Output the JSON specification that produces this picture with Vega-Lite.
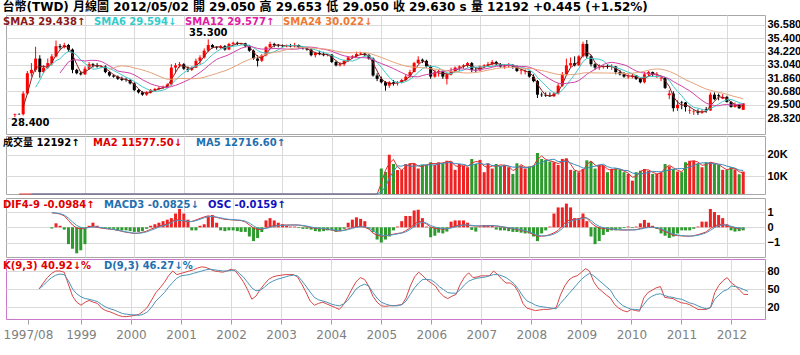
{
"$schema": "https://vega.github.io/schema/vega-lite/v6.json",
"padding": {"left": 2, "top": 0, "right": 0, "bottom": 0},
"background": "white",
"title": {"text": "台幣(TWD)  月線圖  2012/05/02  開 29.050  高 29.653  低 29.050  收 29.630 s  量 12192  +0.445 (+1.52%)", "anchor": "start", "fontSize": 12, "fontWeight": "bold", "font": "DejaVu Sans, Noto Sans CJK TC", "color": "#000000", "offset": 1},
"config": {
  "font": "DejaVu Sans, Noto Sans CJK TC",
  "view": {"stroke": "#a8a8a8"},
  "axis": {"labelFont": "Liberation Sans", "labelFontSize": 11, "labelFontWeight": "bold", "labelColor": "#000000", "labelOverlap": false, "ticks": false, "domain": false, "gridColor": "#dadada", "title": null, "labelPadding": 2},
  "legend": {"orient": "top-left", "direction": "horizontal", "title": null, "symbolSize": 1, "symbolOpacity": 0, "symbolStrokeWidth": 0, "labelOffset": -15, "labelFont": "DejaVu Sans, Noto Sans CJK TC", "labelFontSize": 10, "labelFontWeight": "bold", "columnPadding": 12, "padding": 0, "offset": 2}
},
"spacing": 0,
"resolve": {"scale": {"color": "independent", "y": "independent", "x": "independent"}, "legend": {"color": "independent"}},
"datasets": {"m": [
{"d":"1997/08/01","o":28.62,"h":28.72,"l":28.4,"c":28.68,"v":0},
{"d":"1997/09/01","o":28.68,"h":28.75,"l":28.6,"c":28.66,"v":0},
{"d":"1997/10/01","o":28.66,"h":30.7,"l":28.55,"c":30.5,"v":0},
{"d":"1997/11/01","o":30.5,"h":32.5,"l":30.4,"c":32.3,"v":0},
{"d":"1997/12/01","o":32.3,"h":33.2,"l":32.0,"c":32.6,"v":0},
{"d":"1998/01/01","o":32.6,"h":34.65,"l":32.4,"c":33.6,"v":0},
{"d":"1998/02/01","o":33.6,"h":33.9,"l":31.9,"c":32.4,"v":0},
{"d":"1998/03/01","o":32.4,"h":33.0,"l":32.3,"c":32.8,"v":0,"k":50,"dv":50},
{"d":"1998/04/01","o":32.8,"h":33.6,"l":32.7,"c":33.2,"v":0,"k":60,"dv":56},
{"d":"1998/05/01","o":33.2,"h":34.0,"l":33.0,"c":33.8,"v":0,"k":69,"dv":63,"dif":0.95,"sig":0.95,"osc":-0.08},
{"d":"1998/06/01","o":33.8,"h":35.2,"l":33.7,"c":34.7,"v":0,"k":76,"dv":69,"dif":0.92,"sig":0.93,"osc":0.26},
{"d":"1998/07/01","o":34.7,"h":34.9,"l":34.4,"c":34.6,"v":0,"k":80,"dv":73,"dif":0.87,"sig":0.89,"osc":0.1},
{"d":"1998/08/01","o":34.6,"h":35.0,"l":34.5,"c":34.8,"v":0,"k":80,"dv":75,"dif":0.75,"sig":0.8,"osc":-0.15},
{"d":"1998/09/01","o":34.8,"h":34.9,"l":34.2,"c":34.4,"v":0,"k":78,"dv":74,"dif":0.45,"sig":0.6,"osc":-1.1},
{"d":"1998/10/01","o":34.4,"h":34.5,"l":32.3,"c":32.6,"v":0,"k":58,"dv":64,"dif":0.15,"sig":0.35,"osc":-1.4},
{"d":"1998/11/01","o":32.6,"h":32.7,"l":32.2,"c":32.3,"v":0,"k":38,"dv":50,"dif":-0.05,"sig":0.12,"osc":-1.7},
{"d":"1998/12/01","o":32.3,"h":32.5,"l":32.1,"c":32.2,"v":0,"k":28,"dv":42,"dif":-0.1,"sig":0,"osc":-1.5},
{"d":"1999/01/01","o":32.2,"h":32.9,"l":32.15,"c":32.7,"v":0,"k":23,"dv":37,"dif":-0.08,"sig":-0.06,"osc":-1.1},
{"d":"1999/02/01","o":32.7,"h":33.3,"l":32.6,"c":33.1,"v":0,"k":28,"dv":34,"dif":0.04,"sig":-0.01,"osc":0.1},
{"d":"1999/03/01","o":33.1,"h":33.2,"l":32.8,"c":33.0,"v":0,"k":31,"dv":33,"dif":0.05,"sig":0.03,"osc":0.3},
{"d":"1999/04/01","o":33.0,"h":33.2,"l":32.8,"c":32.9,"v":0,"k":28,"dv":31,"dif":0,"sig":0.02,"osc":0.1},
{"d":"1999/05/01","o":32.85,"h":33.0,"l":32.75,"c":32.9,"v":0,"k":26,"dv":29,"dif":-0.05,"sig":-0.02,"osc":-0.05},
{"d":"1999/06/01","o":32.9,"h":33.0,"l":32.3,"c":32.4,"v":0,"k":18,"dv":24,"dif":-0.08,"sig":-0.06,"osc":-0.08},
{"d":"1999/07/01","o":32.4,"h":32.5,"l":32.0,"c":32.1,"v":0,"k":14,"dv":20,"dif":-0.12,"sig":-0.1,"osc":-0.1},
{"d":"1999/08/01","o":32.1,"h":32.2,"l":31.9,"c":32.0,"v":0,"k":12,"dv":17,"dif":-0.15,"sig":-0.14,"osc":-0.1},
{"d":"1999/09/01","o":32.0,"h":32.1,"l":31.7,"c":31.8,"v":0,"k":9,"dv":15,"dif":-0.2,"sig":-0.18,"osc":-0.2},
{"d":"1999/10/01","o":31.8,"h":32.0,"l":31.6,"c":31.7,"v":0,"k":6,"dv":12,"dif":-0.26,"sig":-0.24,"osc":-0.2},
{"d":"1999/11/01","o":31.75,"h":31.9,"l":31.55,"c":31.7,"v":0,"k":4,"dv":9,"dif":-0.32,"sig":-0.3,"osc":-0.2},
{"d":"1999/12/01","o":31.7,"h":31.8,"l":31.3,"c":31.4,"v":0,"k":4,"dv":8,"dif":-0.36,"sig":-0.34,"osc":-0.25},
{"d":"2000/01/01","o":31.4,"h":31.5,"l":30.7,"c":30.8,"v":0,"k":5,"dv":7,"dif":-0.4,"sig":-0.38,"osc":-0.3},
{"d":"2000/02/01","o":30.8,"h":30.9,"l":30.5,"c":30.6,"v":0,"k":6,"dv":7,"dif":-0.38,"sig":-0.39,"osc":-0.3},
{"d":"2000/03/01","o":30.6,"h":30.7,"l":30.3,"c":30.4,"v":0,"k":8,"dv":6,"dif":-0.33,"sig":-0.36,"osc":-0.25},
{"d":"2000/04/01","o":30.4,"h":30.7,"l":30.3,"c":30.6,"v":0,"k":13,"dv":8,"dif":-0.25,"sig":-0.3,"osc":-0.1},
{"d":"2000/05/01","o":30.6,"h":30.9,"l":30.5,"c":30.8,"v":0,"k":20,"dv":12,"dif":-0.13,"sig":-0.2,"osc":0.1},
{"d":"2000/06/01","o":30.8,"h":31.0,"l":30.7,"c":30.9,"v":0,"k":32,"dv":20,"dif":-0.02,"sig":-0.1,"osc":0.2},
{"d":"2000/07/01","o":30.9,"h":31.1,"l":30.8,"c":31.0,"v":0,"k":44,"dv":30,"dif":0.08,"sig":0.02,"osc":0.3},
{"d":"2000/08/01","o":31.0,"h":31.2,"l":30.9,"c":31.1,"v":0,"k":52,"dv":37,"dif":0.15,"sig":0.1,"osc":0.4},
{"d":"2000/09/01","o":31.1,"h":31.4,"l":31.0,"c":31.3,"v":0,"k":61,"dv":44,"dif":0.2,"sig":0.16,"osc":0.5},
{"d":"2000/10/01","o":31.3,"h":33.1,"l":31.2,"c":32.8,"v":0,"k":72,"dv":53,"dif":0.4,"sig":0.3,"osc":0.6},
{"d":"2000/11/01","o":32.8,"h":33.2,"l":32.3,"c":33.0,"v":0,"k":80,"dv":61,"dif":0.5,"sig":0.42,"osc":0.9},
{"d":"2000/12/01","o":33.0,"h":33.3,"l":32.8,"c":33.1,"v":0,"k":74,"dv":68,"dif":0.48,"sig":0.46,"osc":1.2},
{"d":"2001/01/01","o":33.1,"h":33.2,"l":32.6,"c":32.7,"v":0,"k":76,"dv":72,"dif":0.4,"sig":0.43,"osc":0.9},
{"d":"2001/02/01","o":32.7,"h":32.9,"l":32.4,"c":32.6,"v":0,"k":78,"dv":73,"dif":0.36,"sig":0.39,"osc":0.5},
{"d":"2001/03/01","o":32.6,"h":32.9,"l":32.5,"c":32.8,"v":0,"k":80,"dv":74,"dif":0.38,"sig":0.38,"osc":-0.2},
{"d":"2001/04/01","o":32.8,"h":33.6,"l":32.75,"c":33.4,"v":0,"k":82,"dv":76,"dif":0.48,"sig":0.43,"osc":-0.2},
{"d":"2001/05/01","o":33.4,"h":33.9,"l":33.1,"c":33.7,"v":0,"k":85,"dv":78,"dif":0.58,"sig":0.52,"osc":0.1},
{"d":"2001/06/01","o":33.7,"h":34.5,"l":33.6,"c":34.3,"v":0,"k":87,"dv":80,"dif":0.68,"sig":0.62,"osc":0.2},
{"d":"2001/07/01","o":34.3,"h":35.3,"l":34.2,"c":34.8,"v":0,"k":86,"dv":82,"dif":0.75,"sig":0.7,"osc":0.7},
{"d":"2001/08/01","o":34.8,"h":34.9,"l":34.5,"c":34.6,"v":0,"k":83,"dv":83,"dif":0.7,"sig":0.71,"osc":0.8},
{"d":"2001/09/01","o":34.6,"h":34.7,"l":34.4,"c":34.55,"v":0,"k":80,"dv":82,"dif":0.65,"sig":0.67,"osc":0.3},
{"d":"2001/10/01","o":34.55,"h":34.8,"l":34.45,"c":34.7,"v":0,"k":79,"dv":81,"dif":0.58,"sig":0.62,"osc":-0.2},
{"d":"2001/11/01","o":34.7,"h":34.8,"l":34.3,"c":34.4,"v":0,"k":78,"dv":80,"dif":0.52,"sig":0.56,"osc":-0.25},
{"d":"2001/12/01","o":34.4,"h":35.0,"l":34.35,"c":34.9,"v":0,"k":80,"dv":80,"dif":0.5,"sig":0.52,"osc":-0.2},
{"d":"2002/01/01","o":34.9,"h":35.1,"l":34.8,"c":35.0,"v":0,"k":83,"dv":81,"dif":0.48,"sig":0.5,"osc":-0.2},
{"d":"2002/02/01","o":35.0,"h":35.1,"l":34.8,"c":34.9,"v":0,"k":80,"dv":82,"dif":0.46,"sig":0.48,"osc":-0.25},
{"d":"2002/03/01","o":34.9,"h":35.0,"l":34.8,"c":34.95,"v":0,"k":72,"dv":76,"dif":0.44,"sig":0.46,"osc":-0.3},
{"d":"2002/04/01","o":34.95,"h":35.0,"l":34.6,"c":34.7,"v":0,"k":62,"dv":70,"dif":0.35,"sig":0.4,"osc":-0.3},
{"d":"2002/05/01","o":34.7,"h":34.8,"l":34.2,"c":34.3,"v":0,"k":49,"dv":61,"dif":0.15,"sig":0.28,"osc":-0.6},
{"d":"2002/06/01","o":34.3,"h":34.4,"l":33.5,"c":33.6,"v":0,"k":33,"dv":52,"dif":-0.05,"sig":0.1,"osc":-0.9},
{"d":"2002/07/01","o":33.6,"h":33.9,"l":32.9,"c":33.4,"v":0,"k":38,"dv":47,"dif":-0.15,"sig":-0.05,"osc":-0.7},
{"d":"2002/08/01","o":33.4,"h":34.0,"l":33.3,"c":33.9,"v":0,"k":49,"dv":48,"dif":-0.12,"sig":-0.1,"osc":-0.3},
{"d":"2002/09/01","o":33.9,"h":34.7,"l":33.8,"c":34.6,"v":0,"k":58,"dv":53,"dif":-0.05,"sig":-0.08,"osc":0.45},
{"d":"2002/10/01","o":34.6,"h":35.1,"l":34.5,"c":34.9,"v":0,"k":66,"dv":59,"dif":0.05,"sig":0,"osc":0.6},
{"d":"2002/11/01","o":34.9,"h":35.0,"l":34.6,"c":34.8,"v":0,"k":70,"dv":63,"dif":0.11,"sig":0.07,"osc":0.45},
{"d":"2002/12/01","o":34.8,"h":34.9,"l":34.6,"c":34.75,"v":0,"k":72,"dv":66,"dif":0.13,"sig":0.11,"osc":0.3},
{"d":"2003/01/01","o":34.75,"h":34.85,"l":34.6,"c":34.7,"v":0,"k":73,"dv":68,"dif":0.14,"sig":0.13,"osc":0.2},
{"d":"2003/02/01","o":34.7,"h":34.85,"l":34.6,"c":34.75,"v":0,"k":74,"dv":70,"dif":0.15,"sig":0.14,"osc":0.1},
{"d":"2003/03/01","o":34.75,"h":34.9,"l":34.6,"c":34.7,"v":0,"k":74,"dv":72,"dif":0.15,"sig":0.15,"osc":0.05},
{"d":"2003/04/01","o":34.7,"h":35.0,"l":34.6,"c":34.8,"v":0,"k":74,"dv":73,"dif":0.16,"sig":0.15,"osc":0.05},
{"d":"2003/05/01","o":34.8,"h":34.85,"l":34.5,"c":34.6,"v":0,"k":70,"dv":72,"dif":0.14,"sig":0.15,"osc":-0.05},
{"d":"2003/06/01","o":34.6,"h":34.7,"l":34.4,"c":34.5,"v":0,"k":58,"dv":64,"dif":0.1,"sig":0.12,"osc":-0.1},
{"d":"2003/07/01","o":34.5,"h":34.6,"l":34.3,"c":34.4,"v":0,"k":45,"dv":55,"dif":0.05,"sig":0.08,"osc":-0.1},
{"d":"2003/08/01","o":34.4,"h":34.5,"l":33.8,"c":33.9,"v":0,"k":30,"dv":45,"dif":-0.02,"sig":0.02,"osc":-0.15},
{"d":"2003/09/01","o":33.9,"h":34.2,"l":33.7,"c":34.1,"v":0,"k":23,"dv":36,"dif":-0.06,"sig":-0.03,"osc":-0.25},
{"d":"2003/10/01","o":34.1,"h":34.3,"l":33.9,"c":34.0,"v":0,"k":26,"dv":32,"dif":-0.08,"sig":-0.06,"osc":-0.28},
{"d":"2003/11/01","o":34.0,"h":34.2,"l":33.8,"c":33.9,"v":0,"k":28,"dv":30,"dif":-0.1,"sig":-0.08,"osc":-0.25},
{"d":"2003/12/01","o":33.9,"h":34.0,"l":33.8,"c":33.95,"v":0,"k":25,"dv":28,"dif":-0.13,"sig":-0.11,"osc":-0.2},
{"d":"2004/01/01","o":33.95,"h":34.0,"l":33.2,"c":33.3,"v":0,"k":22,"dv":25,"dif":-0.18,"sig":-0.15,"osc":-0.2},
{"d":"2004/02/01","o":33.3,"h":33.4,"l":32.9,"c":33.0,"v":0,"k":19,"dv":23,"dif":-0.24,"sig":-0.2,"osc":-0.3},
{"d":"2004/03/01","o":33.0,"h":33.3,"l":32.9,"c":33.1,"v":0,"k":16,"dv":22,"dif":-0.24,"sig":-0.23,"osc":-0.25},
{"d":"2004/04/01","o":33.1,"h":33.5,"l":32.95,"c":33.4,"v":0,"k":24,"dv":25,"dif":-0.18,"sig":-0.21,"osc":-0.1},
{"d":"2004/05/01","o":33.4,"h":33.8,"l":33.3,"c":33.7,"v":0,"k":36,"dv":31,"dif":-0.1,"sig":-0.15,"osc":0.3},
{"d":"2004/06/01","o":33.7,"h":33.9,"l":33.6,"c":33.8,"v":0,"k":50,"dv":40,"dif":-0.02,"sig":-0.07,"osc":0.5},
{"d":"2004/07/01","o":33.8,"h":34.2,"l":33.7,"c":34.0,"v":0,"k":62,"dv":50,"dif":0.04,"sig":0,"osc":0.65},
{"d":"2004/08/01","o":34.0,"h":34.2,"l":33.9,"c":34.05,"v":0,"k":69,"dv":55,"dif":0.06,"sig":0.04,"osc":0.55},
{"d":"2004/09/01","o":34.05,"h":34.1,"l":33.8,"c":33.9,"v":0,"k":66,"dv":58,"dif":0,"sig":0.03,"osc":0.4},
{"d":"2004/10/01","o":33.9,"h":34.0,"l":33.5,"c":33.6,"v":0,"k":55,"dv":55,"dif":-0.12,"sig":-0.05,"osc":-0.1},
{"d":"2004/11/01","o":33.6,"h":33.7,"l":32.0,"c":32.1,"v":0,"k":38,"dv":44,"dif":-0.38,"sig":-0.22,"osc":-0.3},
{"d":"2004/12/01","o":32.1,"h":32.3,"l":31.6,"c":31.8,"v":0,"k":28,"dv":35,"dif":-0.52,"sig":-0.4,"osc":-0.8},
{"d":"2005/01/01","o":31.8,"h":32.0,"l":31.4,"c":31.5,"v":13600,"k":22,"dv":28,"dif":-0.58,"sig":-0.52,"osc":-1.0},
{"d":"2005/02/01","o":31.5,"h":31.6,"l":30.75,"c":31.2,"v":12000,"k":21,"dv":25,"dif":-0.56,"sig":-0.55,"osc":-0.8},
{"d":"2005/03/01","o":31.2,"h":31.6,"l":31.0,"c":31.5,"v":20000,"k":22,"dv":23,"dif":-0.5,"sig":-0.52,"osc":-0.6},
{"d":"2005/04/01","o":31.5,"h":31.7,"l":31.2,"c":31.4,"v":15700,"k":22,"dv":22,"dif":-0.45,"sig":-0.48,"osc":-0.2},
{"d":"2005/05/01","o":31.4,"h":31.6,"l":31.2,"c":31.5,"v":12900,"k":23,"dv":22,"dif":-0.4,"sig":-0.43,"osc":0.05},
{"d":"2005/06/01","o":31.5,"h":31.8,"l":31.4,"c":31.7,"v":12900,"k":24,"dv":24,"dif":-0.36,"sig":-0.38,"osc":0.4},
{"d":"2005/07/01","o":31.7,"h":32.2,"l":31.6,"c":32.0,"v":15700,"k":35,"dv":30,"dif":-0.22,"sig":-0.3,"osc":0.74},
{"d":"2005/08/01","o":32.0,"h":32.6,"l":31.9,"c":32.4,"v":16000,"k":55,"dv":41,"dif":-0.05,"sig":-0.15,"osc":0.74},
{"d":"2005/09/01","o":32.4,"h":33.3,"l":32.4,"c":33.2,"v":16000,"k":70,"dv":52,"dif":0.18,"sig":0.04,"osc":1.1},
{"d":"2005/10/01","o":33.2,"h":33.8,"l":33.1,"c":33.5,"v":13600,"k":78,"dv":60,"dif":0.38,"sig":0.25,"osc":1.15},
{"d":"2005/11/01","o":33.5,"h":33.6,"l":33.2,"c":33.4,"v":15300,"k":72,"dv":66,"dif":0.35,"sig":0.33,"osc":0.6},
{"d":"2005/12/01","o":33.4,"h":33.5,"l":32.8,"c":32.9,"v":15300,"k":65,"dv":66,"dif":0.22,"sig":0.28,"osc":0.05},
{"d":"2006/01/01","o":32.9,"h":33.0,"l":31.8,"c":32.0,"v":16500,"k":60,"dv":65,"dif":0.02,"sig":0.12,"osc":-0.65},
{"d":"2006/02/01","o":32.0,"h":32.6,"l":31.9,"c":32.4,"v":15300,"k":55,"dv":60,"dif":-0.06,"sig":0.02,"osc":-0.55},
{"d":"2006/03/01","o":32.4,"h":32.6,"l":32.0,"c":32.5,"v":16500,"k":45,"dv":54,"dif":-0.09,"sig":-0.04,"osc":-0.35},
{"d":"2006/04/01","o":32.5,"h":32.6,"l":31.8,"c":32.0,"v":16000,"k":38,"dv":49,"dif":-0.12,"sig":-0.08,"osc":-0.4},
{"d":"2006/05/01","o":31.8,"h":32.3,"l":31.3,"c":32.2,"v":17200,"k":34,"dv":44,"dif":-0.11,"sig":-0.1,"osc":-0.28},
{"d":"2006/06/01","o":32.2,"h":32.8,"l":32.1,"c":32.5,"v":16800,"k":38,"dv":43,"dif":0,"sig":-0.05,"osc":0.37},
{"d":"2006/07/01","o":32.5,"h":32.9,"l":32.4,"c":32.8,"v":13000,"k":41,"dv":43,"dif":0.08,"sig":0.03,"osc":0.45},
{"d":"2006/08/01","o":32.8,"h":33.0,"l":32.5,"c":32.9,"v":15700,"k":58,"dv":49,"dif":0.14,"sig":0.1,"osc":0.45},
{"d":"2006/09/01","o":32.9,"h":33.1,"l":32.7,"c":33.0,"v":14900,"k":70,"dv":57,"dif":0.16,"sig":0.14,"osc":0.45},
{"d":"2006/10/01","o":33.0,"h":33.3,"l":32.8,"c":33.2,"v":14200,"k":77,"dv":63,"dif":0.15,"sig":0.15,"osc":0.3},
{"d":"2006/11/01","o":33.2,"h":33.3,"l":32.4,"c":32.6,"v":18000,"k":69,"dv":66,"dif":0.1,"sig":0.13,"osc":-0.17},
{"d":"2006/12/01","o":32.6,"h":32.8,"l":32.4,"c":32.55,"v":15700,"k":70,"dv":68,"dif":0.08,"sig":0.1,"osc":-0.28},
{"d":"2007/01/01","o":32.55,"h":33.0,"l":32.5,"c":32.9,"v":17600,"k":72,"dv":69,"dif":0.09,"sig":0.09,"osc":0.05},
{"d":"2007/02/01","o":32.9,"h":33.1,"l":32.8,"c":33.0,"v":11900,"k":72,"dv":70,"dif":0.1,"sig":0.09,"osc":0.15},
{"d":"2007/03/01","o":33.0,"h":33.3,"l":32.9,"c":33.1,"v":16000,"k":72,"dv":72,"dif":0.11,"sig":0.1,"osc":0.15},
{"d":"2007/04/01","o":33.1,"h":33.47,"l":33.0,"c":33.3,"v":13600,"k":80,"dv":74,"dif":0.12,"sig":0.11,"osc":0.15},
{"d":"2007/05/01","o":33.3,"h":33.4,"l":33.0,"c":33.1,"v":15700,"k":74,"dv":74,"dif":0.08,"sig":0.1,"osc":-0.15},
{"d":"2007/06/01","o":33.1,"h":33.2,"l":32.8,"c":32.9,"v":14900,"k":66,"dv":72,"dif":0.04,"sig":0.06,"osc":-0.2},
{"d":"2007/07/01","o":32.9,"h":33.1,"l":32.7,"c":33.0,"v":15300,"k":60,"dv":69,"dif":0,"sig":0.02,"osc":-0.2},
{"d":"2007/08/01","o":33.0,"h":33.2,"l":32.8,"c":33.05,"v":14200,"k":60,"dv":64,"dif":-0.04,"sig":-0.02,"osc":-0.25},
{"d":"2007/09/01","o":33.05,"h":33.1,"l":32.7,"c":32.9,"v":11100,"k":55,"dv":58,"dif":-0.08,"sig":-0.06,"osc":-0.3},
{"d":"2007/10/01","o":32.9,"h":33.0,"l":32.4,"c":32.5,"v":16000,"k":44,"dv":49,"dif":-0.14,"sig":-0.1,"osc":-0.3},
{"d":"2007/11/01","o":32.5,"h":32.7,"l":32.2,"c":32.55,"v":14900,"k":26,"dv":38,"dif":-0.2,"sig":-0.16,"osc":-0.35},
{"d":"2007/12/01","o":32.45,"h":32.65,"l":32.2,"c":32.5,"v":13600,"k":18,"dv":30,"dif":-0.26,"sig":-0.22,"osc":-0.4},
{"d":"2008/01/01","o":32.5,"h":32.55,"l":31.9,"c":32.0,"v":14600,"k":16,"dv":27,"dif":-0.34,"sig":-0.3,"osc":-0.4},
{"d":"2008/02/01","o":32.0,"h":32.2,"l":31.5,"c":31.6,"v":14900,"k":14,"dv":23,"dif":-0.48,"sig":-0.4,"osc":-0.6},
{"d":"2008/03/01","o":31.6,"h":31.7,"l":30.1,"c":30.4,"v":20800,"k":15,"dv":21,"dif":-0.58,"sig":-0.52,"osc":-0.9},
{"d":"2008/04/01","o":30.4,"h":30.6,"l":30.2,"c":30.35,"v":18000,"k":16,"dv":20,"dif":-0.58,"sig":-0.56,"osc":-0.4},
{"d":"2008/05/01","o":30.35,"h":30.6,"l":30.2,"c":30.3,"v":17600,"k":16,"dv":19,"dif":-0.55,"sig":-0.56,"osc":-0.2},
{"d":"2008/06/01","o":30.3,"h":30.6,"l":30.2,"c":30.25,"v":16800,"k":17,"dv":18,"dif":-0.48,"sig":-0.52,"osc":0.05},
{"d":"2008/07/01","o":30.25,"h":30.6,"l":30.2,"c":30.5,"v":16500,"k":19,"dv":17,"dif":-0.36,"sig":-0.44,"osc":0.9},
{"d":"2008/08/01","o":30.5,"h":31.4,"l":30.4,"c":31.2,"v":15300,"k":40,"dv":26,"dif":-0.2,"sig":-0.3,"osc":1.3},
{"d":"2008/09/01","o":31.2,"h":32.4,"l":31.1,"c":32.2,"v":18000,"k":55,"dv":34,"dif":0.1,"sig":-0.08,"osc":1.3},
{"d":"2008/10/01","o":32.2,"h":33.6,"l":32.1,"c":33.0,"v":18300,"k":65,"dv":42,"dif":0.4,"sig":0.2,"osc":1.55},
{"d":"2008/11/01","o":33.0,"h":33.7,"l":32.8,"c":33.2,"v":13000,"k":70,"dv":50,"dif":0.5,"sig":0.4,"osc":1.3},
{"d":"2008/12/01","o":33.2,"h":33.8,"l":32.9,"c":33.0,"v":12600,"k":72,"dv":58,"dif":0.52,"sig":0.48,"osc":0.6},
{"d":"2009/01/01","o":33.0,"h":33.9,"l":32.95,"c":33.8,"v":11900,"k":78,"dv":66,"dif":0.55,"sig":0.52,"osc":0.6},
{"d":"2009/02/01","o":33.8,"h":35.1,"l":33.7,"c":34.9,"v":13400,"k":84,"dv":72,"dif":0.68,"sig":0.6,"osc":0.9},
{"d":"2009/03/01","o":34.9,"h":35.25,"l":33.6,"c":33.8,"v":17400,"k":80,"dv":76,"dif":0.6,"sig":0.62,"osc":0.4},
{"d":"2009/04/01","o":33.8,"h":33.9,"l":32.9,"c":33.1,"v":16800,"k":62,"dv":72,"dif":0.3,"sig":0.45,"osc":-0.6},
{"d":"2009/05/01","o":33.1,"h":33.2,"l":32.6,"c":32.8,"v":13600,"k":52,"dv":66,"dif":0.08,"sig":0.22,"osc":-1.1},
{"d":"2009/06/01","o":32.8,"h":33.1,"l":32.6,"c":32.9,"v":15300,"k":46,"dv":60,"dif":-0.04,"sig":0.06,"osc":-0.9},
{"d":"2009/07/01","o":32.9,"h":33.0,"l":32.7,"c":32.95,"v":14900,"k":40,"dv":54,"dif":-0.08,"sig":-0.02,"osc":-0.5},
{"d":"2009/08/01","o":32.95,"h":33.1,"l":32.7,"c":32.85,"v":11900,"k":35,"dv":48,"dif":-0.1,"sig":-0.07,"osc":-0.3},
{"d":"2009/09/01","o":32.85,"h":33.1,"l":32.6,"c":32.9,"v":13400,"k":24,"dv":36,"dif":-0.12,"sig":-0.1,"osc":-0.2},
{"d":"2009/10/01","o":32.9,"h":32.95,"l":32.2,"c":32.4,"v":13600,"k":18,"dv":28,"dif":-0.15,"sig":-0.13,"osc":-0.2},
{"d":"2009/11/01","o":32.4,"h":32.6,"l":32.1,"c":32.2,"v":13000,"k":14,"dv":22,"dif":-0.17,"sig":-0.16,"osc":-0.1},
{"d":"2009/12/01","o":32.2,"h":32.4,"l":31.9,"c":32.0,"v":11900,"k":12,"dv":19,"dif":-0.18,"sig":-0.17,"osc":-0.05},
{"d":"2010/01/01","o":31.95,"h":32.2,"l":31.8,"c":32.0,"v":11100,"k":16,"dv":16,"dif":-0.17,"sig":-0.17,"osc":0.05},
{"d":"2010/02/01","o":32.0,"h":32.3,"l":31.85,"c":32.1,"v":8000,"k":14,"dv":16,"dif":-0.17,"sig":-0.17,"osc":-0.05},
{"d":"2010/03/01","o":32.1,"h":32.15,"l":31.7,"c":31.8,"v":11900,"k":13,"dv":15,"dif":-0.15,"sig":-0.16,"osc":0.05},
{"d":"2010/04/01","o":31.8,"h":31.9,"l":31.4,"c":31.5,"v":12600,"k":35,"dv":24,"dif":-0.08,"sig":-0.12,"osc":0.26},
{"d":"2010/05/01","o":31.5,"h":32.4,"l":31.4,"c":32.2,"v":13400,"k":44,"dv":33,"dif":-0.02,"sig":-0.06,"osc":0.48},
{"d":"2010/06/01","o":32.2,"h":32.5,"l":32.0,"c":32.4,"v":12600,"k":48,"dv":38,"dif":0.02,"sig":-0.01,"osc":0.3},
{"d":"2010/07/01","o":32.4,"h":32.45,"l":32.0,"c":32.2,"v":11100,"k":52,"dv":41,"dif":0.01,"sig":0.01,"osc":0.1},
{"d":"2010/08/01","o":31.95,"h":32.4,"l":31.9,"c":32.0,"v":11100,"k":54,"dv":42,"dif":-0.05,"sig":-0.02,"osc":-0.1},
{"d":"2010/09/01","o":31.85,"h":32.1,"l":31.6,"c":31.9,"v":11900,"k":36,"dv":39,"dif":-0.15,"sig":-0.1,"osc":-0.4},
{"d":"2010/10/01","o":31.9,"h":31.95,"l":30.9,"c":31.0,"v":15700,"k":35,"dv":37,"dif":-0.28,"sig":-0.2,"osc":-0.55},
{"d":"2010/11/01","o":30.35,"h":30.8,"l":30.0,"c":30.5,"v":14600,"k":34,"dv":36,"dif":-0.4,"sig":-0.32,"osc":-0.7},
{"d":"2010/12/01","o":30.5,"h":30.7,"l":28.9,"c":29.2,"v":13400,"k":30,"dv":34,"dif":-0.5,"sig":-0.44,"osc":-0.6},
{"d":"2011/01/01","o":29.2,"h":29.9,"l":28.95,"c":29.5,"v":12200,"k":27,"dv":33,"dif":-0.54,"sig":-0.5,"osc":-0.4},
{"d":"2011/02/01","o":29.75,"h":29.85,"l":29.1,"c":29.7,"v":11900,"k":26,"dv":30,"dif":-0.56,"sig":-0.54,"osc":-0.2},
{"d":"2011/03/01","o":29.7,"h":29.75,"l":28.9,"c":29.3,"v":16500,"k":24,"dv":27,"dif":-0.58,"sig":-0.56,"osc":-0.2},
{"d":"2011/04/01","o":28.95,"h":29.35,"l":28.7,"c":29.0,"v":17200,"k":20,"dv":25,"dif":-0.58,"sig":-0.57,"osc":-0.2},
{"d":"2011/05/01","o":28.85,"h":29.1,"l":28.6,"c":28.9,"v":17200,"k":16,"dv":22,"dif":-0.55,"sig":-0.56,"osc":-0.1},
{"d":"2011/06/01","o":28.9,"h":29.1,"l":28.6,"c":28.8,"v":16000,"k":16,"dv":19,"dif":-0.48,"sig":-0.52,"osc":0.05},
{"d":"2011/07/01","o":28.8,"h":29.1,"l":28.7,"c":28.9,"v":14200,"k":16,"dv":17,"dif":-0.4,"sig":-0.45,"osc":0.37},
{"d":"2011/08/01","o":29.1,"h":29.3,"l":28.8,"c":29.0,"v":16500,"k":19,"dv":19,"dif":-0.3,"sig":-0.36,"osc":0.37},
{"d":"2011/09/01","o":29.0,"h":30.6,"l":28.95,"c":30.4,"v":16500,"k":44,"dv":33,"dif":-0.08,"sig":-0.2,"osc":1.2},
{"d":"2011/10/01","o":30.4,"h":30.6,"l":29.9,"c":30.0,"v":15700,"k":56,"dv":40,"dif":0.08,"sig":-0.03,"osc":1.0},
{"d":"2011/11/01","o":30.35,"h":30.5,"l":29.9,"c":30.26,"v":15300,"k":64,"dv":46,"dif":0.18,"sig":0.1,"osc":0.8},
{"d":"2011/12/01","o":30.05,"h":30.45,"l":30.0,"c":30.2,"v":13000,"k":69,"dv":49,"dif":0.2,"sig":0.16,"osc":0.6},
{"d":"2012/01/01","o":30.2,"h":30.3,"l":29.7,"c":29.75,"v":13000,"k":60,"dv":55,"dif":0.1,"sig":0.14,"osc":0.2},
{"d":"2012/02/01","o":29.75,"h":29.85,"l":29.25,"c":29.3,"v":14200,"k":55,"dv":54,"dif":0.02,"sig":0.07,"osc":-0.2},
{"d":"2012/03/01","o":29.3,"h":29.7,"l":29.25,"c":29.5,"v":13228,"k":48,"dv":52,"dif":-0.04,"sig":0,"osc":-0.28},
{"d":"2012/04/01","o":29.5,"h":29.6,"l":29.15,"c":29.185,"v":10963,"k":41,"dv":49,"dif":-0.08,"sig":-0.05,"osc":-0.25},
{"d":"2012/05/01","o":29.05,"h":29.653,"l":29.05,"c":29.63,"v":12192,"k":40.92,"dv":46.27,"dif":-0.0984,"sig":-0.0825,"osc":-0.2}
]},
"vconcat": [
{
  "width": 759, "height": 119,
  "data": {"name": "m"},
  "encoding": {
    "x": {"field": "d", "type": "temporal", "scale": {"domain": [{"year":1997,"month":7,"date":3},{"year":2012,"month":9,"date":2}]},
      "axis": {"values": [{"year":1999,"month":1,"date":1},{"year":2000,"month":1,"date":1},{"year":2001,"month":1,"date":1},{"year":2002,"month":1,"date":1},{"year":2003,"month":1,"date":1},{"year":2004,"month":1,"date":1},{"year":2005,"month":1,"date":1},{"year":2006,"month":1,"date":1},{"year":2007,"month":1,"date":1},{"year":2008,"month":1,"date":1},{"year":2009,"month":1,"date":1},{"year":2010,"month":1,"date":1},{"year":2011,"month":1,"date":1},{"year":2012,"month":1,"date":1}], "labels": false, "ticks": false, "domain": false, "grid": true, "title": null, "minExtent": 0, "maxExtent": 0, "labelPadding": 0}}
  },
  "layer": [
    {"mark": {"type": "rule", "strokeWidth": 1},
     "encoding": {
       "y": {"field": "l", "type": "quantitative", "scale": {"domain": [26.908, 37.467], "nice": false, "zero": false},
         "axis": {"orient": "right", "values": [28.32, 29.5, 30.68, 31.86, 33.04, 34.22, 35.4, 36.58], "format": ".3f", "grid": true, "labelOverlap": false, "title": null}},
       "y2": {"field": "h"},
       "color": {"condition": {"test": "datum.c >= datum.o", "value": "#ff0000"}, "value": "#000000"}}},
    {"mark": {"type": "bar", "size": 3},
     "encoding": {
       "y": {"field": "o", "type": "quantitative", "scale": {"domain": [26.908, 37.467], "nice": false, "zero": false},
         "axis": {"orient": "right", "values": [28.32, 29.5, 30.68, 31.86, 33.04, 34.22, 35.4, 36.58], "format": ".3f", "grid": true, "labelOverlap": false, "title": null}},
       "y2": {"field": "c"},
       "color": {"condition": {"test": "datum.c >= datum.o", "value": "#ff0000"}, "value": "#000000"}}},
    {"transform": [
       {"window": [{"op": "row_number", "as": "n"}]},
       {"window": [{"op": "mean", "field": "c", "as": "SMA3"}], "frame": [-2, 0]},
       {"window": [{"op": "mean", "field": "c", "as": "SMA6"}], "frame": [-5, 0]},
       {"window": [{"op": "mean", "field": "c", "as": "SMA12"}], "frame": [-11, 0]},
       {"window": [{"op": "mean", "field": "c", "as": "SMA24"}], "frame": [-23, 0]},
       {"fold": ["SMA3", "SMA6", "SMA12", "SMA24"], "as": ["s", "val"]},
       {"filter": "(datum.s=='SMA3'&&datum.n>=3)||(datum.s=='SMA6'&&datum.n>=6)||(datum.s=='SMA12'&&datum.n>=12)||(datum.s=='SMA24'&&datum.n>=24)"}
     ],
     "mark": {"type": "line", "strokeWidth": 1},
     "encoding": {
       "y": {"field": "val", "type": "quantitative", "scale": {"domain": [26.908, 37.467], "nice": false, "zero": false},
         "axis": {"orient": "right", "values": [28.32, 29.5, 30.68, 31.86, 33.04, 34.22, 35.4, 36.58], "format": ".3f", "grid": true, "labelOverlap": false, "title": null}},
       "color": {"field": "s", "type": "nominal", "scale": {"domain": ["SMA3", "SMA6", "SMA12", "SMA24"], "range": ["#8b1a1a", "#40c8c8", "#d040a8", "#e6a37a"]},
         "legend": {"columnPadding": 8, "labelExpr": "datum.label=='SMA3'?'SMA3 29.438↑':datum.label=='SMA6'?'SMA6 29.594↓':datum.label=='SMA12'?'SMA12 29.577↑':'SMA24 30.022↓'",
           "labelColor": {"expr": "datum.label=='SMA3'?'#8b1a1a':datum.label=='SMA6'?'#33cccc':datum.label=='SMA12'?'#e0209f':'#f07830'"}}}}},
    {"transform": [{"joinaggregate": [{"op": "max", "field": "h", "as": "hmax"}]}, {"filter": "datum.h == datum.hmax"}],
     "mark": {"type": "text", "baseline": "bottom", "dy": -1, "fontSize": 10, "fontWeight": "bold", "font": "DejaVu Sans", "color": "#000000"},
     "encoding": {"y": {"field": "h", "type": "quantitative", "scale": {"domain": [26.908, 37.467], "nice": false, "zero": false},
         "axis": {"orient": "right", "values": [28.32, 29.5, 30.68, 31.86, 33.04, 34.22, 35.4, 36.58], "format": ".3f", "grid": true, "labelOverlap": false, "title": null}},
       "text": {"field": "h", "type": "quantitative", "format": ".3f"}}},
    {"transform": [{"joinaggregate": [{"op": "min", "field": "l", "as": "lmin"}]}, {"filter": "datum.l == datum.lmin"}],
     "mark": {"type": "text", "baseline": "top", "align": "left", "dx": -4, "dy": 1, "fontSize": 10, "fontWeight": "bold", "font": "DejaVu Sans", "color": "#000000"},
     "encoding": {"y": {"field": "l", "type": "quantitative", "scale": {"domain": [26.908, 37.467], "nice": false, "zero": false},
         "axis": {"orient": "right", "values": [28.32, 29.5, 30.68, 31.86, 33.04, 34.22, 35.4, 36.58], "format": ".3f", "grid": true, "labelOverlap": false, "title": null}},
       "text": {"field": "l", "type": "quantitative", "format": ".3f"}}}
  ]
},
{
  "width": 759, "height": 58,
  "data": {"name": "m"},
  "encoding": {
    "x": {"field": "d", "type": "temporal", "scale": {"domain": [{"year":1997,"month":7,"date":3},{"year":2012,"month":9,"date":2}]},
      "axis": {"values": [{"year":1999,"month":1,"date":1},{"year":2000,"month":1,"date":1},{"year":2001,"month":1,"date":1},{"year":2002,"month":1,"date":1},{"year":2003,"month":1,"date":1},{"year":2004,"month":1,"date":1},{"year":2005,"month":1,"date":1},{"year":2006,"month":1,"date":1},{"year":2007,"month":1,"date":1},{"year":2008,"month":1,"date":1},{"year":2009,"month":1,"date":1},{"year":2010,"month":1,"date":1},{"year":2011,"month":1,"date":1},{"year":2012,"month":1,"date":1}], "labels": false, "ticks": false, "domain": false, "grid": true, "title": null, "minExtent": 0, "maxExtent": 0, "labelPadding": 0}}
  },
  "layer": [
    {"transform": [{"filter": "datum.v > 0"}],
     "mark": {"type": "bar", "size": 3},
     "encoding": {
       "y": {"field": "v", "type": "quantitative", "scale": {"domain": [1806, 28657], "nice": false, "zero": false, "clamp": true},
         "axis": {"orient": "right", "values": [10000, 20000], "labelExpr": "(datum.value/1000) + 'K'", "grid": true, "labelOverlap": false, "title": null}},
       "y2": {"datum": 0},
       "color": {"condition": {"test": "datum.c >= datum.o", "value": "#ee2222"}, "value": "#2e9a2e"}}},
    {"transform": [
       {"window": [{"op": "row_number", "as": "n"}]},
       {"window": [{"op": "mean", "field": "v", "as": "MA2"}], "frame": [-1, 0]},
       {"window": [{"op": "mean", "field": "v", "as": "MA5"}], "frame": [-4, 0]},
       {"fold": ["MA2", "MA5"], "as": ["s", "val"]},
       {"filter": "(datum.s=='MA2'&&datum.n>=2)||(datum.s=='MA5'&&datum.n>=5)"}
     ],
     "mark": {"type": "line", "strokeWidth": 1},
     "encoding": {
       "y": {"field": "val", "type": "quantitative", "scale": {"domain": [1806, 28657], "nice": false, "zero": false, "clamp": true},
         "axis": {"orient": "right", "values": [10000, 20000], "labelExpr": "(datum.value/1000) + 'K'", "grid": true, "labelOverlap": false, "title": null}},
       "color": {"field": "s", "type": "nominal", "scale": {"domain": ["成交量", "MA2", "MA5"], "range": ["#000000", "#e03030", "#3a8cc0"]},
         "legend": {"columnPadding": 13, "labelExpr": "datum.label=='成交量'?'成交量 12192↑':datum.label=='MA2'?'MA2 11577.50↓':'MA5 12716.60↑'",
           "labelColor": {"expr": "datum.label=='成交量'?'#000000':datum.label=='MA2'?'#e00000':'#1f70b0'"}}}}}
  ]
},
{
  "width": 759, "height": 59,
  "data": {"name": "m"},
  "encoding": {
    "x": {"field": "d", "type": "temporal", "scale": {"domain": [{"year":1997,"month":7,"date":3},{"year":2012,"month":9,"date":2}]},
      "axis": {"values": [{"year":1999,"month":1,"date":1},{"year":2000,"month":1,"date":1},{"year":2001,"month":1,"date":1},{"year":2002,"month":1,"date":1},{"year":2003,"month":1,"date":1},{"year":2004,"month":1,"date":1},{"year":2005,"month":1,"date":1},{"year":2006,"month":1,"date":1},{"year":2007,"month":1,"date":1},{"year":2008,"month":1,"date":1},{"year":2009,"month":1,"date":1},{"year":2010,"month":1,"date":1},{"year":2011,"month":1,"date":1},{"year":2012,"month":1,"date":1}], "labels": false, "ticks": false, "domain": false, "grid": true, "title": null, "minExtent": 0, "maxExtent": 0, "labelPadding": 0}}
  },
  "layer": [
    {"transform": [{"filter": "isValid(datum.osc)"}],
     "mark": {"type": "bar", "size": 3},
     "encoding": {
       "y": {"field": "osc", "type": "quantitative", "scale": {"domain": [-1.94, 1.915], "nice": false, "zero": false},
         "axis": {"orient": "right", "values": [-1, 0, 1], "grid": true, "labelOverlap": false, "title": null}},
       "y2": {"datum": 0},
       "color": {"condition": {"test": "datum.osc >= 0", "value": "#ee2222"}, "value": "#2e9a2e"}}},
    {"transform": [
       {"fold": ["dif", "sig"], "as": ["s", "val"]},
       {"filter": "isValid(datum.val)"}
     ],
     "mark": {"type": "line", "strokeWidth": 1},
     "encoding": {
       "y": {"field": "val", "type": "quantitative", "scale": {"domain": [-1.94, 1.915], "nice": false, "zero": false},
         "axis": {"orient": "right", "values": [-1, 0, 1], "grid": true, "labelOverlap": false, "title": null}},
       "color": {"field": "s", "type": "nominal", "scale": {"domain": ["dif", "sig", "osc"], "range": ["#e03030", "#4a9ac8", "#1010c0"]},
         "legend": {"columnPadding": 9, "labelExpr": "datum.label=='dif'?'DIF4-9 -0.0984↑':datum.label=='sig'?'MACD3 -0.0825↓':'OSC -0.0159↑'",
           "labelColor": {"expr": "datum.label=='dif'?'#e00000':datum.label=='sig'?'#1f70b0':'#1010c0'"}}}}}
  ]
},
{
  "width": 759, "height": 60,
  "view": {"stroke": "#cc77cc"},
  "data": {"name": "m"},
  "encoding": {
    "x": {"field": "d", "type": "temporal", "scale": {"domain": [{"year":1997,"month":7,"date":3},{"year":2012,"month":9,"date":2}]},
      "axis": {"values": [{"year":1997,"month":12,"date":10},{"year":1999,"month":1,"date":1},{"year":2000,"month":1,"date":1},{"year":2001,"month":1,"date":1},{"year":2002,"month":1,"date":1},{"year":2003,"month":1,"date":1},{"year":2004,"month":1,"date":1},{"year":2005,"month":1,"date":1},{"year":2006,"month":1,"date":1},{"year":2007,"month":1,"date":1},{"year":2008,"month":1,"date":1},{"year":2009,"month":1,"date":1},{"year":2010,"month":1,"date":1},{"year":2011,"month":1,"date":1},{"year":2012,"month":1,"date":1}],
        "labelExpr": "year(datum.value)==1997 ? '1997/08' : timeFormat(datum.value, '%Y')",
        "labelFont": "DejaVu Sans", "labelFontWeight": "normal", "labelFontSize": 12, "labelColor": "#808080", "labelOverlap": false, "ticks": true, "tickSize": 5, "tickColor": "#a0a0a0", "labelPadding": 5, "domain": false, "grid": true,
        "gridColor": {"condition": {"test": "year(datum.value)==1997", "value": "transparent"}, "value": "#dadada"}, "title": null}}
  },
  "layer": [
    {"transform": [
       {"fold": ["k", "dv"], "as": ["s", "val"]},
       {"filter": "isValid(datum.val)"}
     ],
     "mark": {"type": "line", "strokeWidth": 1},
     "encoding": {
       "y": {"field": "val", "type": "quantitative", "scale": {"domain": [0, 100], "nice": false},
         "axis": {"orient": "right", "values": [20, 50, 80], "grid": true, "labelOverlap": false, "title": null}},
       "color": {"field": "s", "type": "nominal", "scale": {"domain": ["k", "dv"], "range": ["#d84848", "#4a94b8"]},
         "legend": {"columnPadding": 12, "labelExpr": "datum.label=='k'?'K(9,3) 40.92↓%':'D(9,3) 46.27↓%'",
           "labelColor": {"expr": "datum.label=='k'?'#e00000':'#1f70b0'"}}}}}
  ]
}
]
}
